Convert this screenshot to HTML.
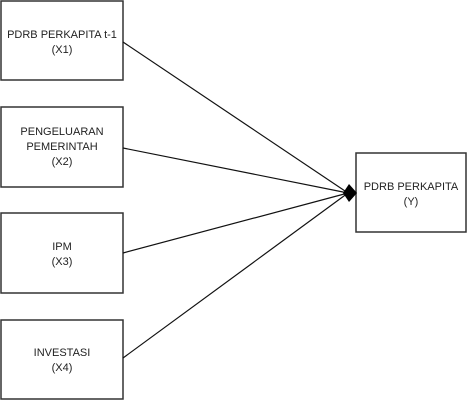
<!DOCTYPE html>
<html><head><meta charset="utf-8"><style>
html,body{margin:0;padding:0;background:#fff;}
svg{display:block;}
text{font-family:"Liberation Sans",Arial,sans-serif;font-size:11px;fill:#222;}
</style></head><body>
<svg width="467" height="400" viewBox="0 0 467 400" xmlns="http://www.w3.org/2000/svg">
<g fill="#fff" stroke="#333" stroke-width="1.5">
<rect x="1" y="1" width="122" height="79"/>
<rect x="1" y="107" width="122" height="80"/>
<rect x="1" y="213" width="122" height="80"/>
<rect x="1" y="320" width="122" height="79"/>
<rect x="356" y="153" width="110" height="79"/>
</g>
<g stroke="#111" stroke-width="1.2">
<line x1="123" y1="42" x2="348" y2="193"/>
<line x1="123" y1="148" x2="348" y2="193"/>
<line x1="123" y1="253" x2="348" y2="193"/>
<line x1="123" y1="358" x2="348" y2="193"/>
</g>
<polygon points="357,193 349,184 343,193 349,202" fill="#000"/>
<g text-anchor="middle">
<text x="62" y="38">PDRB PERKAPITA t-1</text>
<text x="62" y="53">(X1)</text>
<text x="62" y="135">PENGELUARAN</text>
<text x="62" y="150">PEMERINTAH</text>
<text x="62" y="165">(X2)</text>
<text x="62" y="250">IPM</text>
<text x="62" y="265">(X3)</text>
<text x="62" y="356">INVESTASI</text>
<text x="62" y="371">(X4)</text>
<text x="411" y="190">PDRB PERKAPITA</text>
<text x="411" y="205">(Y)</text>
</g>
</svg>
</body></html>
